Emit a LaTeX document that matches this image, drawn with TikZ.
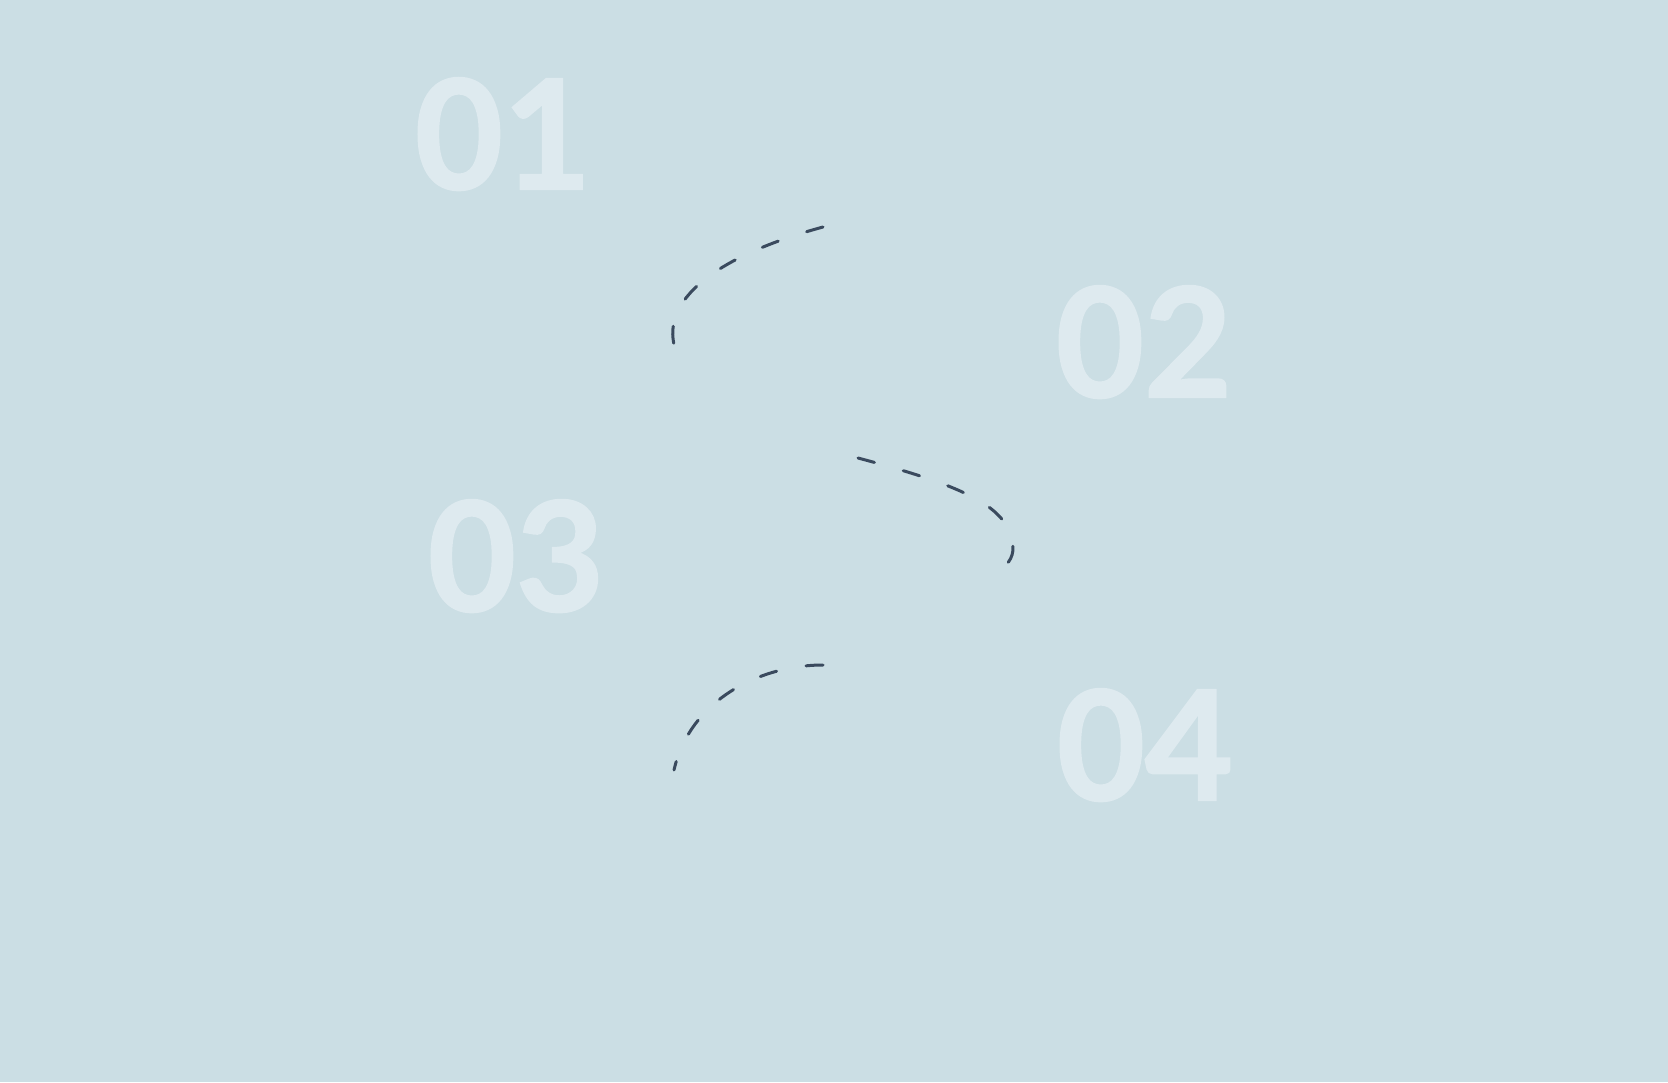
\documentclass[tikz,border=0pt]{standalone}
\usepackage{fontspec}
\setmainfont{Lato}[BoldFeatures={FakeBold=1.5}]
\usepackage{xcolor}
\usepackage{tikz}
\usetikzlibrary{positioning}
\definecolor{paleblue}{RGB}{203,222,228}
\definecolor{stepgrey}{RGB}{222,234,239}
\definecolor{inkslate}{RGB}{58,74,94}
\tikzset{
  stepnum/.style={inner sep=0pt,anchor=base,text=stepgrey,
    font=\fontsize{152}{152}\selectfont\bfseries},
  squiggle/.style={draw=inkslate,line width=3pt,line cap=round,
    dash pattern=on 17pt off 30pt}
}

\begin{document}
\begin{tikzpicture}[x=1pt,y=-1pt]
  \fill[paleblue] (0,0) rectangle (1668,1082);
  \node[stepnum] (n01) at (503,189) {01};
  \node[stepnum] (n02) at (1144,397) {02};
  \node[stepnum] (n03) at (516,611) {03};
  \node[stepnum] (n04) at (1145,800) {04};
  \coordinate (a1) at (823,227);
  \coordinate (b1) at (677,354);
  \coordinate (a2) at (858,458);
  \coordinate (m2) at (1012,540);
  \coordinate (b2) at (1001,568);
  \coordinate (a3) at (823,665);
  \coordinate (b3) at (674,770);
  \draw[squiggle] (a1) .. controls (720,255) and (655,300) .. (b1);
  \draw[squiggle] (a2) .. controls (960,485) and (1005,505) .. (m2)
    .. controls (1016,555) and (1008,565) .. (b2);
  \draw[squiggle] (a3) .. controls (760,665) and (690,700) .. (b3);
\end{tikzpicture}
\end{document}
